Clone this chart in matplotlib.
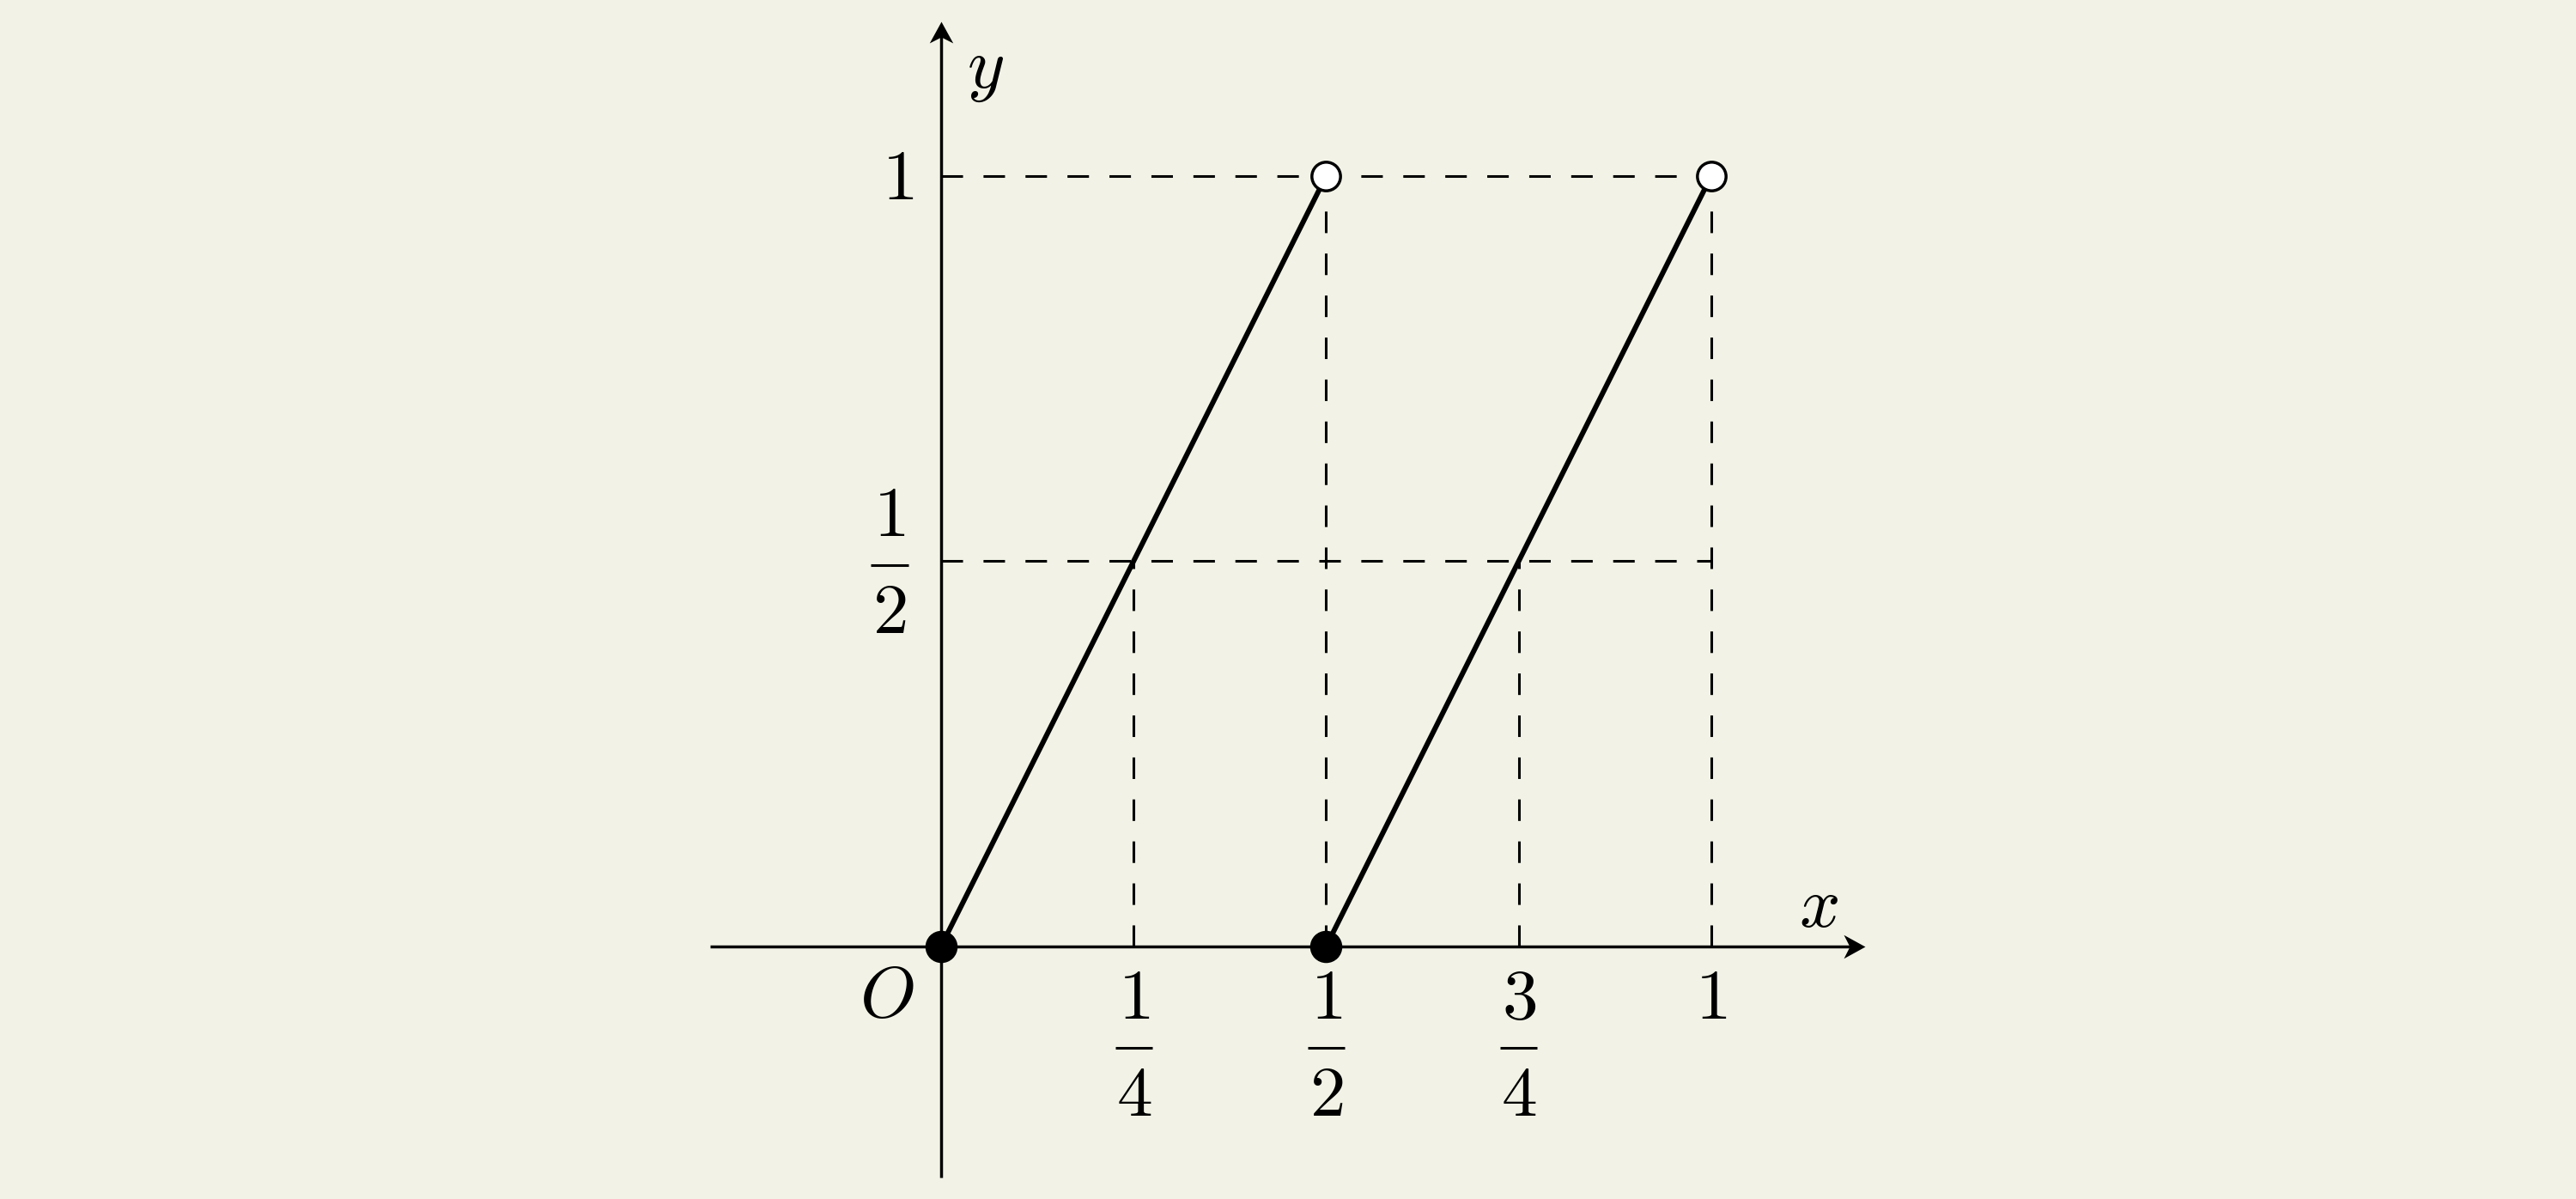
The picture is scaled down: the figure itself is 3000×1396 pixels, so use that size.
import numpy as np
import matplotlib
matplotlib.use("Agg")
import matplotlib.pyplot as plt
from matplotlib.path import Path

plt.rcParams["mathtext.fontset"] = "cm"
plt.rcParams["font.family"] = "DejaVu Sans"

# -------------------------
# Data
# -------------------------
seg_x = [[0, 0.5], [0.5, 1]]
seg_y = [[0, 1], [0, 1]]

closed_x = [0, 0.5]
closed_y = [0, 0]
open_x = [0.5, 1]
open_y = [1, 1]

# dashed guides: horizontal at y from x=0 to x_end, vertical at x from y=0 to y_end
hguide_y = [1, 0.5]
hguide_xend = [1, 1]
vguide_x = [0.25, 0.5, 0.75, 1]
vguide_yend = [0.5, 1, 0.5, 1]

# tick labels as (numerator, denominator); denominator None -> plain number
xticks = [0.25, 0.5, 0.75, 1]
xtick_num = ["1", "1", "3", "1"]
xtick_den = ["4", "2", "4", None]
yticks = [0.5, 1]
ytick_num = ["1", "1"]
ytick_den = ["2", None]

# -------------------------
# Layout (pixels of the 3000x1396 canvas)
# -------------------------
W, H = 3000, 1396
DPI = 100
unit = 897.0             # px per data unit
ox, oy = 1096.0, 1101.7  # origin in px (from left, from top)

fig = plt.figure(figsize=(W / DPI, H / DPI), dpi=DPI)
bg = "#f2f3e6"
fig.patch.set_facecolor(bg)
ax = fig.add_axes([0, 0, 1, 1])
ax.set_facecolor(bg)
ax.set_xlim(-ox / unit, (W - ox) / unit)
ax.set_ylim(-(H - oy) / unit, oy / unit)
ax.axis("off")

# -------------------------
# Dashed guides
# -------------------------
dash = (0, (8.2, 7.8))
for y, xe in zip(hguide_y, hguide_xend):
    ax.plot([0, xe], [y, y], color="black", lw=2.2, linestyle=dash,
            dash_capstyle="butt", zorder=1)
for x, ye in zip(vguide_x, vguide_yend):
    ax.plot([x, x], [0, ye], color="black", lw=2.2, linestyle=dash,
            dash_capstyle="butt", zorder=1)

# -------------------------
# Axes with arrows
# -------------------------
x_min, x_max = -0.3, 1.2
y_min, y_max = -0.3, 1.2
ax.plot([x_min, x_max - 0.015], [0, 0], color="black", lw=2.5,
        solid_capstyle="butt", zorder=2)
ax.plot([0, 0], [y_min, y_max - 0.015], color="black", lw=2.5,
        solid_capstyle="butt", zorder=2)

arrow_right = Path([(0, 0), (-1, 0.55), (-0.72, 0), (-1, -0.55), (0, 0)],
                   [Path.MOVETO, Path.LINETO, Path.LINETO, Path.LINETO, Path.CLOSEPOLY])
arrow_up = Path([(0, 0), (-0.55, -1), (0, -0.72), (0.55, -1), (0, 0)],
                [Path.MOVETO, Path.LINETO, Path.LINETO, Path.LINETO, Path.CLOSEPOLY])
ax.plot([x_max], [0], marker=arrow_right, markersize=36, color="black",
        markeredgewidth=0, zorder=3)
ax.plot([0], [y_max], marker=arrow_up, markersize=36, color="black",
        markeredgewidth=0, zorder=3)

# -------------------------
# Function segments and endpoints
# -------------------------
for xs, ys in zip(seg_x, seg_y):
    ax.plot(xs, ys, color="black", lw=4.3, solid_capstyle="butt", zorder=4)

ax.plot(closed_x, closed_y, "o", color="black", markersize=26, zorder=5)
ax.plot(open_x, open_y, "o", markerfacecolor="white", markeredgecolor="black",
        markeredgewidth=2.5, markersize=24, zorder=5)

# -------------------------
# Labels
# -------------------------
fs = 60
num_up = 0.038     # numerator baseline above the fraction bar
den_down = 0.088   # denominator baseline below the fraction bar
bar_half = 0.024


def label(x, y_bar, num, den):
    """number (den None) or stacked fraction centred at x, bar at y_bar"""
    ax.text(x, y_bar + num_up, f"${num}$", ha="center", va="baseline", fontsize=fs)
    if den is None:
        return
    ax.plot([x - bar_half, x + bar_half], [y_bar, y_bar], color="black",
            lw=2.2, solid_capstyle="butt")
    ax.text(x, y_bar - den_down, f"${den}$", ha="center", va="baseline", fontsize=fs)


for x, n, d in zip(xticks, xtick_num, xtick_den):
    label(x, -0.1317, n, d)

label(-0.0669, 0.495, ytick_num[0], ytick_den[0])
ax.text(-0.0557, 0.970, f"${ytick_num[1]}$", ha="center", va="baseline", fontsize=fs)

ax.text(1.139, 0.052, r"$x$", ha="center", va="center", fontsize=fs)
ax.text(0.057, 1.139, r"$y$", ha="center", va="center", fontsize=fs)
ax.text(-0.07, -0.065, r"$O$", ha="center", va="center", fontsize=fs)

fig.savefig("out.png", dpi=DPI, facecolor=bg)
